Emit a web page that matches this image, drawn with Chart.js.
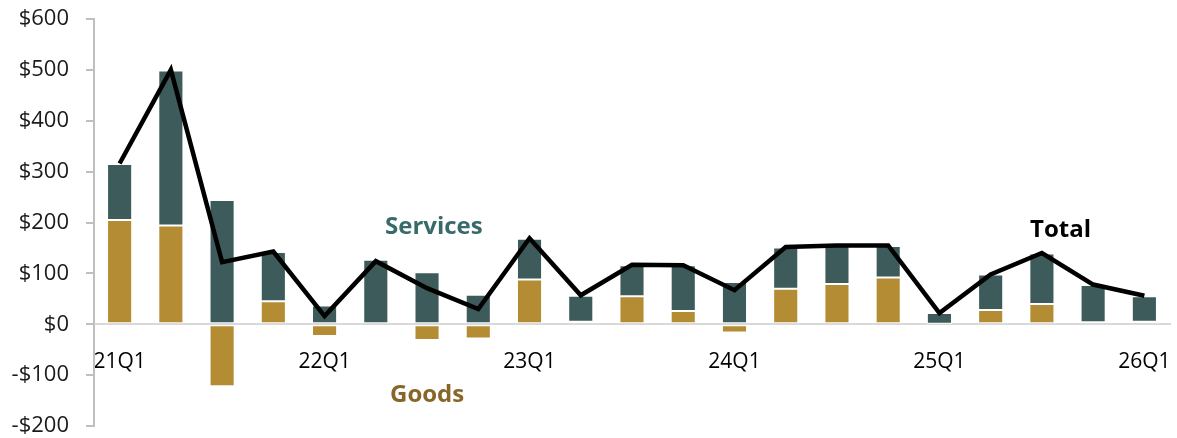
<!DOCTYPE html>
<html>
<head>
<meta charset="utf-8">
<script src="https://cdn.jsdelivr.net/npm/chart.js@4/dist/chart.umd.min.js"></script>
<style>
  html, body { margin: 0; padding: 0; background: #fff; }
  #wrap { width: 1177px; height: 438px; position: relative; }
</style>
</head>
<body>
<div id="wrap"><canvas id="contrib"></canvas></div>
<script>
// quarters and contributions, $ billions
var quarters = ['21Q1', '21Q2', '21Q3', '21Q4', '22Q1', '22Q2', '22Q3', '22Q4',
                '23Q1', '23Q2', '23Q3', '23Q4', '24Q1', '24Q2', '24Q3', '24Q4',
                '25Q1', '25Q2', '25Q3', '25Q4', '26Q1'];
var goods    = [205, 194, -122, 45, -23, -3, -31, -28, 88, 5, 55, 26, -16, 70, 79, 92, 1, 28, 40, 4, 5];
var services = [110, 305, 244, 97, 37, 127, 102, 58, 80, 51, 61, 90, 83, 81, 75, 62, 21, 70, 99, 73, 50];
var total    = [316, 500, 122, 143, 16, 124, 71, 30, 169, 57, 117, 116, 67, 152, 155, 155, 22, 98, 140, 78, 56];
var yTicks   = [-200, -100, 0, 100, 200, 300, 400, 500, 600];

var FONT = "'Open Sans', 'Noto Sans', sans-serif";

// text labels next to the series
var seriesLabels = {
    id: 'seriesLabels',
    afterDatasetsDraw: function (chart) {
        var c = chart.ctx;
        c.save();
        c.font = 'bold 24px ' + FONT;
        c.textBaseline = 'middle';
        c.textAlign = 'left';
        c.fillStyle = '#386a6b';
        c.fillText('Services', 385, 227);
        c.fillStyle = '#876727';
        c.fillText('Goods', 390, 395);
        c.fillStyle = '#000000';
        c.fillText('Total', 1030, 230);
        c.restore();
    }
};

// keep the plot box fixed: no room taken by the axes beyond the y width
function fixX(scale) {
    scale.height = 0;
    scale.paddingLeft = 0;
    scale.paddingRight = 0;
    scale.paddingTop = 0;
    scale.paddingBottom = 0;
}
function fixY(scale) {
    scale.width = 94;
    scale.paddingTop = 0;
    scale.paddingBottom = 0;
}

var ctx = document.getElementById('contrib').getContext('2d');

new Chart(ctx, {
    data: {
        labels: quarters,
        datasets: [
            {
                type: 'line',
                label: 'Total',
                data: total,
                borderColor: '#000000',
                borderWidth: 4.5,
                pointRadius: 0,
                tension: 0,
                stack: 'total',
                order: 0
            },
            {
                type: 'bar',
                label: 'Goods',
                data: goods,
                backgroundColor: '#b48c34',
                borderColor: '#ffffff',
                borderWidth: 1,
                borderSkipped: false,
                barPercentage: 0.49,
                categoryPercentage: 1,
                stack: 'bars',
                order: 1
            },
            {
                type: 'bar',
                label: 'Services',
                data: services,
                backgroundColor: '#3d5b5a',
                borderColor: '#ffffff',
                borderWidth: 1,
                borderSkipped: false,
                barPercentage: 0.49,
                categoryPercentage: 1,
                stack: 'bars',
                order: 2
            }
        ]
    },
    options: {
        responsive: true,
        maintainAspectRatio: false,
        animation: false,
        layout: { padding: { left: 0, right: 7, top: 19, bottom: 12 } },
        plugins: {
            legend: { display: false },
            tooltip: { enabled: false }
        },
        scales: {
            x: {
                stacked: true,
                position: { y: 0 },
                z: 1,
                afterFit: fixX,
                grid: { display: false, drawTicks: false },
                border: { color: '#d9d9d9', width: 2 },
                ticks: {
                    autoSkip: false,
                    maxRotation: 0,
                    padding: 25,
                    color: '#000000',
                    font: { size: 21, family: FONT },
                    callback: function (v, i) { return i % 4 === 0 ? quarters[i] : ''; }
                }
            },
            y: {
                stacked: true,
                min: yTicks[0],
                max: yTicks[yTicks.length - 1],
                afterFit: fixY,
                afterBuildTicks: function (scale) {
                    scale.ticks = yTicks.map(function (v) { return { value: v }; });
                },
                grid: {
                    drawOnChartArea: false,
                    drawTicks: true,
                    tickLength: 8,
                    color: '#bfbfbf',
                    lineWidth: 2
                },
                border: { color: '#bfbfbf', width: 2 },
                ticks: {
                    padding: 17,
                    color: '#1a1a1a',
                    font: { size: 22, family: FONT },
                    callback: function (v) { return v < 0 ? '-$' + Math.abs(v) : '$' + v; }
                }
            }
        }
    },
    plugins: [seriesLabels]
});
</script>
</body>
</html>
